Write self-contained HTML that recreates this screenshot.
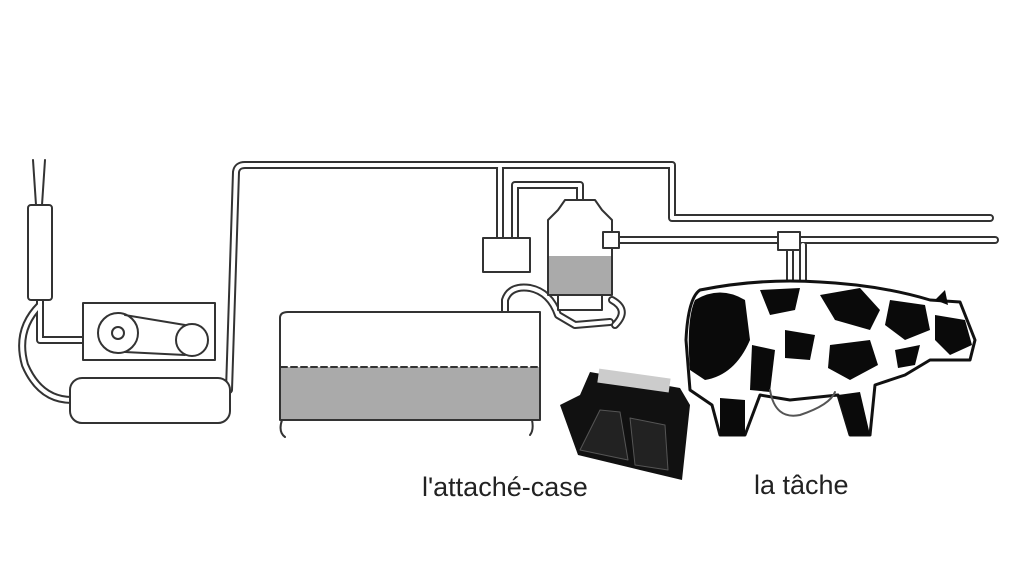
<!DOCTYPE html>
<html><head><meta charset="utf-8"><style>
html,body{margin:0;padding:0;background:#fff;}
.w{position:relative;width:1024px;height:573px;overflow:hidden;background:#fff;font-family:"Liberation Sans",sans-serif;}
.t{position:absolute;font-size:27px;color:#222;}
</style></head><body><div class="w">
<svg width="1024" height="573" viewBox="0 0 1024 573" style="position:absolute;left:0;top:0">
<g fill="none" stroke-linecap="round" stroke-linejoin="round">
<g stroke="#333" stroke-width="8">
<path d="M229,390 L236,172 Q237,165 245,165 L672,165 L672,218 L990,218"/>
<path d="M500,168 L500,240"/><path d="M515,240 L515,185 L580,185 L580,200"/>
<path d="M612,240 L995,240"/>
<path d="M790,245 L790,292"/><path d="M803,245 L803,285"/>
<path d="M40,300 L40,340 L85,340"/>
<path d="M40,305 Q15,330 25,365 Q40,400 72,400"/>
<path d="M505,350 L505,300 Q510,285 530,288 Q550,292 558,315 L575,325 L610,322"/>
<path d="M612,300 Q630,310 615,325"/>
</g>
<g stroke="#fff" stroke-width="4">
<path d="M229,390 L236,172 Q237,165 245,165 L672,165 L672,218 L990,218"/>
<path d="M500,168 L500,240"/><path d="M515,240 L515,185 L580,185 L580,200"/>
<path d="M612,240 L995,240"/>
<path d="M790,245 L790,292"/><path d="M803,245 L803,285"/>
<path d="M40,300 L40,340 L85,340"/>
<path d="M40,305 Q15,330 25,365 Q40,400 72,400"/>
<path d="M505,350 L505,300 Q510,285 530,288 Q550,292 558,315 L575,325 L610,322"/>
<path d="M612,300 Q630,310 615,325"/>
</g>
<g stroke="#333" stroke-width="2">
<path d="M33,160 L36,205 M45,160 L42,205"/>
<rect x="28" y="205" width="24" height="95" rx="3" fill="#fff"/>
<rect x="83" y="303" width="132" height="57" fill="#fff"/>
<circle cx="118" cy="333" r="20" fill="#fff"/><circle cx="118" cy="333" r="6"/>
<circle cx="192" cy="340" r="16" fill="#fff"/>
<path d="M125,315 L185,325 M125,352 L185,355"/>
<rect x="70" y="378" width="160" height="45" rx="12" fill="#fff"/>
<rect x="483" y="238" width="47" height="34" fill="#fff"/>
<path d="M548,295 L548,220 L558,210 L565,200 L595,200 L602,210 L612,220 L612,295 Z" fill="#fff"/>
<rect x="549" y="256" width="62" height="38" fill="#aaa" stroke="none"/>
<rect x="558" y="295" width="44" height="15" fill="#fff"/>
<rect x="603" y="232" width="16" height="16" fill="#fff"/>
<rect x="778" y="232" width="22" height="18" fill="#fff"/>
<path d="M280,420 L280,318 Q280,312 288,312 L540,312 L540,420 Z" fill="#fff"/>
<rect x="281" y="367" width="258" height="52" fill="#aaa" stroke="none"/>
<path d="M281,367 L539,367" stroke-dasharray="6,4"/>
<path d="M282,420 Q278,432 285,437 M532,420 Q534,430 530,435"/>
</g>
<path d="M700,290 Q760,278 820,282 Q880,285 930,300 L960,302 L975,340 L970,360 L930,360 L905,375 L875,385 L870,435 L850,435 L838,395 L790,400 L760,395 L745,435 L720,435 L712,405 L690,390 L686,340 Q688,298 700,290 Z" fill="#fff" stroke="#111" stroke-width="3"/>
<g fill="#0a0a0a">
<path d="M695,300 Q720,285 745,300 L750,340 Q735,375 705,380 L690,370 Q686,320 695,300Z"/>
<path d="M760,290 L800,288 L795,310 L770,315Z"/>
<path d="M820,295 L860,288 L880,310 L870,330 L835,320Z"/>
<path d="M890,300 L925,305 L930,330 L905,340 L885,325Z"/>
<path d="M935,315 L965,320 L972,345 L950,355 L935,340Z"/>
<path d="M785,330 L815,335 L810,360 L785,358Z"/>
<path d="M830,345 L870,340 L878,365 L850,380 L828,368Z"/>
<path d="M752,345 L775,350 L770,392 L750,390Z"/>
<path d="M838,395 L860,392 L870,435 L850,436Z"/>
<path d="M720,398 L745,400 L745,436 L720,436Z"/>
<path d="M935,300 L945,290 L948,305Z"/>
<path d="M895,350 L920,345 L915,365 L898,368Z"/>
</g>
<path d="M770,390 Q775,420 800,415 Q830,405 835,392" stroke="#555" stroke-width="2" fill="none"/>
<path d="M590,372 L680,388 L690,405 L682,480 L640,470 L578,455 L560,405 L580,395 Z" fill="#111"/>
<rect x="598" y="373" width="72" height="14" fill="#ccc" transform="rotate(8 630 380)"/>
<path d="M600,410 L620,412 L628,460 L580,450 Z" fill="#222" stroke="#555"/>
<path d="M630,418 L665,425 L668,470 L635,465 Z" fill="#222" stroke="#555"/>
</g>
</svg>
<div class="t" style="left:422px;top:472px">l'attaché-case</div>
<div class="t" style="left:754px;top:470px">la tâche</div>
</div></body></html>
